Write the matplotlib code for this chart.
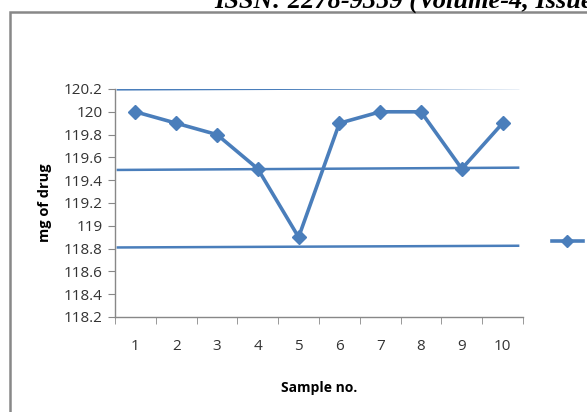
import matplotlib.pyplot as plt
from matplotlib.lines import Line2D
from matplotlib.patches import Rectangle

samples = [1, 2, 3, 4, 5, 6, 7, 8, 9, 10]
drug_mg = [120.0, 119.9, 119.8, 119.5, 118.9, 119.9, 120.0, 120.0, 119.5, 119.9]

# control limits (drawn slightly slanted in the original)
limit_x = [0.57, 10.38]
ucl = [120.197, 120.21]
mean_line = [119.49, 119.51]
lcl = [118.81, 118.825]

yticks = [118.2, 118.4, 118.6, 118.8, 119, 119.2, 119.4, 119.6, 119.8, 120, 120.2]
ytick_labels = ['118.2', '118.4', '118.6', '118.8', '119', '119.2', '119.4',
                '119.6', '119.8', '120', '120.2']

blue = '#4a7ebb'
grey = '#888888'

fig = plt.figure(figsize=(5.87, 4.12), dpi=100)

# page header (cut at the top edge, as in the scanned page) and chart frame
fig.text(214 / 587, 1 - 8 / 412, 'ISSN: 2278-9359 (Volume-4, Issue',
         family='Liberation Serif', weight='bold', style='italic',
         fontsize=19, va='baseline', ha='left')
fig.patches.append(Rectangle((10 / 587, -0.1), 1.2, 1 - 12 / 412 + 0.1,
                             transform=fig.transFigure, fill=False,
                             edgecolor=grey, linewidth=1.8))

ax = fig.add_axes([115 / 587, 1 - 317 / 412, 408 / 587, 228 / 412])

for ys in (ucl, mean_line, lcl):
    ax.plot(limit_x, ys, color=blue, linewidth=1.8)

ax.plot(samples, drug_mg, color=blue, linewidth=2.6, marker='D',
        markersize=7.5, clip_on=False)

ax.set_xlim(0.5, 10.5)
ax.set_ylim(118.2, 120.2)
ax.set_yticks(yticks)
ax.set_yticklabels(ytick_labels)
ax.set_xticks(samples)
ax.set_xticks([i + 0.5 for i in range(0, 11)], minor=True)
ax.tick_params(axis='x', which='major', length=0, pad=16)
ax.tick_params(axis='x', which='minor', length=5, color=grey, direction='out')
ax.tick_params(axis='y', length=5, color=grey, direction='out', pad=4)
for lab in ax.get_xticklabels() + ax.get_yticklabels():
    lab.set_family('Open Sans')
    lab.set_fontsize(11)
    lab.set_color('#333333')

for side in ('top', 'right'):
    ax.spines[side].set_visible(False)
for side in ('left', 'bottom'):
    ax.spines[side].set_color(grey)
    ax.spines[side].set_linewidth(1.0)

ax.set_xlabel('Sample no.', family='Open Sans', weight='bold', fontsize=10,
              labelpad=19)
ax.set_ylabel('mg of drug', family='Open Sans', weight='bold', fontsize=10.5,
              labelpad=8)

# legend entry without text
handle = Line2D([], [], color=blue, linewidth=2.6, marker='D', markersize=6)
fig.legend(handles=[handle], labels=[''], loc='center left',
           bbox_to_anchor=(545 / 587, 1 - 242 / 412), frameon=False,
           handlelength=2.2, handletextpad=0, borderpad=0)

fig.savefig('out.png', dpi=100)
